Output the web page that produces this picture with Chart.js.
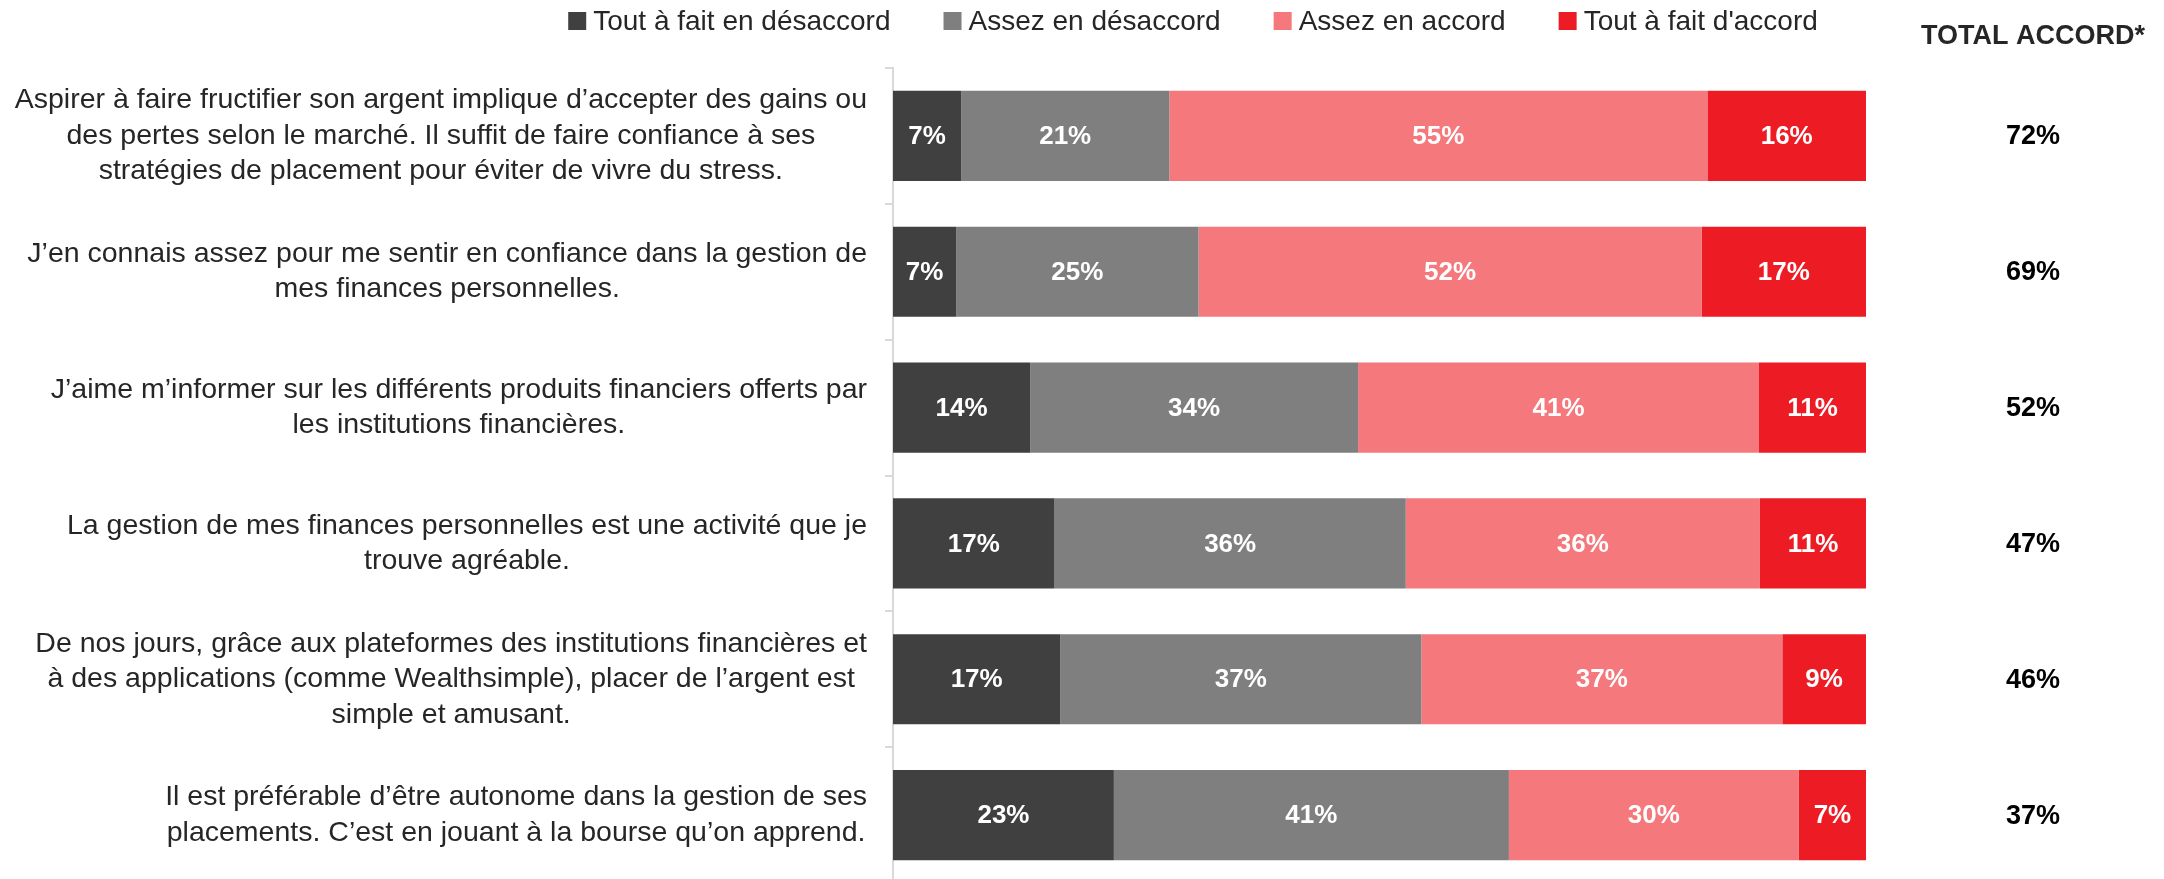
<!DOCTYPE html>
<html lang="fr">
<head>
<meta charset="utf-8">
<title>Total accord</title>
<script src="https://cdn.jsdelivr.net/npm/chart.js@4.4.1/dist/chart.umd.min.js"></script>
<style>
  html, body { margin: 0; padding: 0; background: #fff; overflow: hidden; }
  #wrap { width: 2164px; height: 879px; overflow: hidden; }
</style>
</head>
<body>
<div id="wrap"><canvas id="chart" width="2164" height="883"></canvas></div>
<script>
// énoncés, une ligne de texte par élément
const enonces = [
  ["Aspirer à faire fructifier son argent implique d’accepter des gains ou",
   "des pertes selon le marché. Il suffit de faire confiance à ses",
   "stratégies de placement pour éviter de vivre du stress."],
  ["J’en connais assez pour me sentir en confiance dans la gestion de",
   "mes finances personnelles."],
  ["J’aime m’informer sur les différents produits financiers offerts par",
   "les institutions financières."],
  ["La gestion de mes finances personnelles est une activité que je",
   "trouve agréable."],
  ["De nos jours, grâce aux plateformes des institutions financières et",
   "à des applications (comme Wealthsimple), placer de l’argent est",
   "simple et amusant."],
  ["Il est préférable d’être autonome dans la gestion de ses",
   "placements. C’est en jouant à la bourse qu’on apprend."]
];

const series = ["Tout à fait en désaccord", "Assez en désaccord", "Assez en accord", "Tout à fait d'accord"];
const couleurs = ["#404040", "#7f7f7f", "#f4787c", "#ed1c24"];

// valeurs (%)
const toutDesaccord  = [7.0, 6.5, 14.1, 16.6, 17.2, 22.7];
const assezDesaccord = [21.4, 24.9, 33.7, 36.1, 37.1, 40.6];
const assezAccord    = [55.3, 51.7, 41.2, 36.4, 37.1, 29.8];
const toutAccord     = [16.3, 16.9, 11.0, 10.9, 8.6, 6.9];
const totalAccord    = [72, 69, 52, 47, 46, 37];

const FONT = '"Liberation Sans", Arial, sans-serif';
const LEGEND_CX = 1193;   // centre de la légende
const LEGEND_Y = 21;
const TOTAL_CX = 2033;    // colonne TOTAL ACCORD*
const TOTAL_Y = 37;

// étiquettes des énoncés, centrées ligne par ligne, bloc aligné à droite
const etiquettesY = {
  id: "etiquettesY",
  afterDraw(chart) {
    const sc = chart.scales.y;
    const ctx = chart.ctx;
    const lh = 35.5;
    ctx.save();
    ctx.font = "28.5px " + FONT;
    ctx.fillStyle = "#262626";
    ctx.textAlign = "center";
    ctx.textBaseline = "middle";
    const droite = sc.right - 26;
    enonces.forEach((lignes, i) => {
      const y = sc.getPixelForTick(i);
      const w = Math.max(...lignes.map(l => ctx.measureText(l).width));
      const cx = droite - w / 2;
      lignes.forEach((l, j) => {
        ctx.fillText(l, cx, y + (j - (lignes.length - 1) / 2) * lh);
      });
    });

    // colonne du total
    ctx.font = "bold 27px " + FONT;
    ctx.fillStyle = "#000000";
    totalAccord.forEach((v, i) => {
      ctx.fillText(v + "%", TOTAL_CX, sc.getPixelForTick(i) + 1);
    });
    ctx.restore();
  }
};

// pourcentages dans les barres
const valeursBarres = {
  id: "valeursBarres",
  afterDatasetsDraw(chart) {
    const ctx = chart.ctx;
    ctx.save();
    ctx.font = "bold 26px " + FONT;
    ctx.fillStyle = "#ffffff";
    ctx.textAlign = "center";
    ctx.textBaseline = "middle";
    chart.data.datasets.forEach((ds, di) => {
      chart.getDatasetMeta(di).data.forEach((bar, i) => {
        const p = bar.getProps(["x", "y", "base"], true);
        ctx.fillText(Math.round(ds.data[i]) + "%", (p.x + p.base) / 2, p.y + 1);
      });
    });
    ctx.restore();
  }
};

// légende et titre de colonne
const legendeHaut = {
  id: "legendeHaut",
  afterDraw(chart) {
    const ctx = chart.ctx;
    ctx.save();
    ctx.font = "28px " + FONT;
    ctx.textBaseline = "middle";
    ctx.textAlign = "left";
    const box = 18, gapTxt = 7, gapItem = 53;
    const items = chart.data.datasets.map(d => ({
      label: d.label, color: d.backgroundColor, w: ctx.measureText(d.label).width
    }));
    const total = items.reduce((s, it) => s + box + gapTxt + it.w, 0) + gapItem * (items.length - 1);
    let x = LEGEND_CX - total / 2;
    items.forEach(it => {
      ctx.fillStyle = it.color;
      ctx.fillRect(x, LEGEND_Y - box / 2, box, box);
      ctx.fillStyle = "#262626";
      ctx.fillText(it.label, x + box + gapTxt, LEGEND_Y + 1);
      x += box + gapTxt + it.w + gapItem;
    });

    ctx.font = "bold 27px " + FONT;
    ctx.textAlign = "center";
    ctx.fillStyle = "#262626";
    ctx.fillText("TOTAL ACCORD*", TOTAL_CX, TOTAL_Y);
    ctx.restore();
  }
};

const datasets = [toutDesaccord, assezDesaccord, assezAccord, toutAccord].map((d, i) => ({
  label: series[i],
  data: d,
  backgroundColor: couleurs[i],
  borderWidth: 0,
  barPercentage: 0.664,
  categoryPercentage: 1
}));

new Chart(document.getElementById("chart"), {
  type: "bar",
  data: {
    labels: enonces.map(l => l.join(" ")),
    datasets: datasets
  },
  options: {
    indexAxis: "y",
    responsive: false,
    animation: false,
    layout: { padding: { top: 68, right: 2164 - 1866, bottom: 0, left: 0 } },
    plugins: {
      legend: { display: false },
      tooltip: { enabled: false }
    },
    scales: {
      x: {
        stacked: true,
        min: 0,
        max: 100,
        display: false
      },
      y: {
        stacked: true,
        afterFit(scale) { scale.width = 893; },
        ticks: { display: false },
        grid: {
          drawOnChartArea: false,
          drawTicks: true,
          tickLength: 8,
          color: "#d9d9d9",
          lineWidth: 2
        },
        border: { color: "#d9d9d9", width: 2 }
      }
    }
  },
  plugins: [etiquettesY, valeursBarres, legendeHaut]
});
</script>
</body>
</html>
